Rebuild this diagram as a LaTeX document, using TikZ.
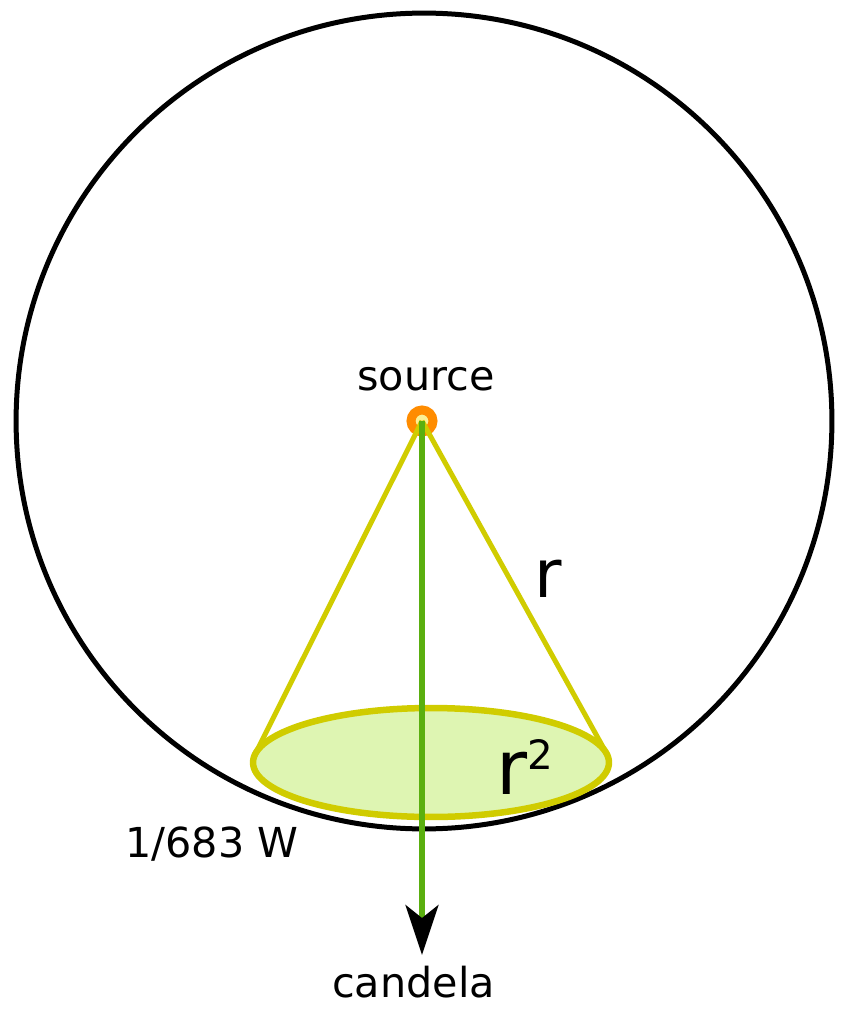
\documentclass[tikz,border=0pt]{standalone}
\usepackage{fontspec}
\setmainfont{DejaVu Sans}
\usetikzlibrary{arrows.meta,shapes.geometric}
\definecolor{coneyellow}{RGB}{208,204,0}
\definecolor{discfill}{RGB}{222,245,178}
\definecolor{beamgreen}{RGB}{90,175,15}
\definecolor{srcorange}{RGB}{255,140,0}
\definecolor{srcfill}{RGB}{250,240,150}
\tikzset{
  sphere/.style={draw, circle, line width=0.1cm, inner sep=0pt, minimum size=16.32cm},
  disc/.style={draw=coneyellow, fill=discfill, ellipse, line width=0.13cm, inner sep=0pt, minimum width=7.12cm, minimum height=2.18cm},
  conerim/.style={draw=coneyellow, line width=0.1cm},
  beam/.style={draw=beamgreen, line width=0.11cm, -{Stealth[length=1cm, width=0.66cm, inset=0.26cm, color=black]}},
  srcdot/.style={draw=srcorange, fill=srcfill, circle, line width=0.18cm, inner sep=0pt, minimum size=0.44cm},
  lbl/.style={font=\fontsize{23.5}{28}\selectfont, anchor=base, inner sep=0pt},
  biglbl/.style={font=\fontsize{38}{46}\selectfont, anchor=base, inner sep=0pt}
}
\begin{document}
\begin{tikzpicture}[x=0.02cm, y=-0.02cm]
  \useasboundingbox (0,0) rectangle (861,1023);
  % sphere round the source
  \node[sphere] (sphere) at (424,421) {};
  \node[srcdot] (src) at (422,421) {};
  % cone onto the disc
  \coordinate (rimL) at (255.1,754.2);
  \coordinate (rimR) at (606.5,753.3);
  \draw[conerim] (src.center) -- (rimL);
  \draw[conerim] (src.center) -- (rimR);
  \node[disc] (disc) at (431,762.5) {};
  \coordinate (tip) at (422,955);
  \draw[beam] (src.center) -- (tip);
  % labels
  \node[lbl] (srclbl) at (426,390) {source};
  \node[biglbl] (rlbl) at (548,597) {r};
  \node[biglbl, anchor=base west, font=\fontsize{43}{50}\selectfont] (arealbl) at (496,794) {r\raisebox{0.5cm}{\fontsize{23}{28}\selectfont 2}};
  \node[lbl] (powlbl) at (212,857) {1/683 W};
  \node[lbl] (cdlbl) at (413.5,997) {candela};
\end{tikzpicture}
\end{document}
